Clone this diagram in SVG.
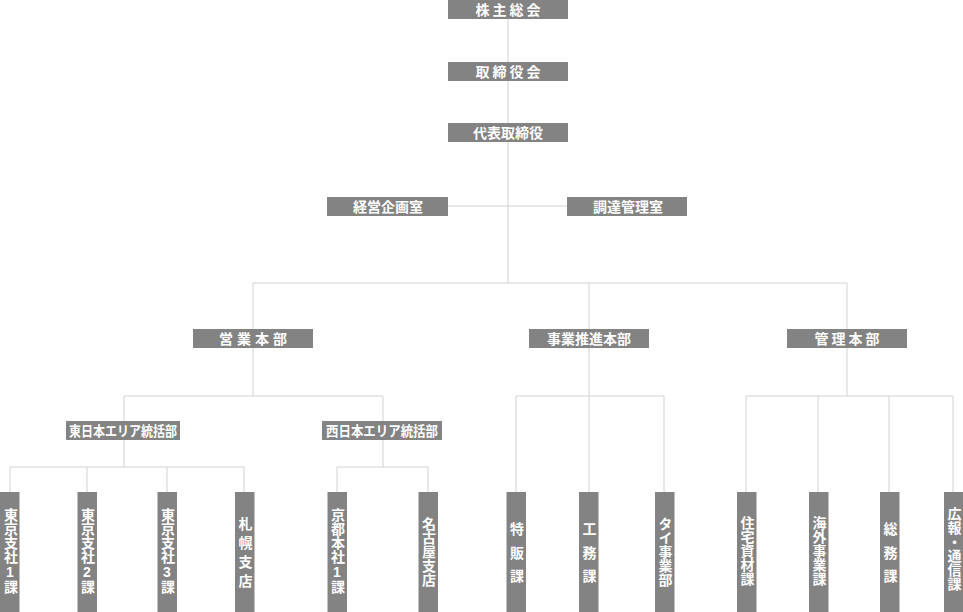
<svg xmlns="http://www.w3.org/2000/svg" width="963" height="612" viewBox="0 0 963 612">
<style>
.b{fill:#838383}
.t{fill:#fff;font-family:"Liberation Sans","Noto Sans CJK JP",sans-serif;font-weight:bold;font-size:14px;text-anchor:middle;dominant-baseline:central}
.v{writing-mode:vertical-rl;text-orientation:upright}
.c{stroke:#d2d2d2;stroke-width:1;fill:none}
</style>
<rect width="963" height="612" fill="#fff"/>
<g id="connectors" class="c">
<path d="M508 19V283M448 206H567M253 283H847M253 283V329M589 283V329M847 283V329"/>
<path d="M253 348V396M124 396H383M124 396V421M383 396V421"/>
<path d="M124 440V467M10 467H244M10 467V492M87 467V492M167 467V492M244 467V492"/>
<path d="M383 440V467M337 467H428M337 467V492M428 467V492"/>
<path d="M589 348V492M516 396H664M516 396V492M664 396V492"/>
<path d="M847 348V396M746 396H953M746 396V492M818 396V492M889 396V492M953 396V492"/>
</g>
<g id="n1"><rect class="b" x="448" y="0" width="120" height="19"/><text class="t" x="509.5" y="10" letter-spacing="3">株主総会</text></g>
<g id="n2"><rect class="b" x="448" y="62" width="120" height="19"/><text class="t" x="509.5" y="72" letter-spacing="3">取締役会</text></g>
<g id="n3"><rect class="b" x="448" y="123" width="120" height="19"/><text class="t" x="508" y="133">代表取締役</text></g>
<g id="n4"><rect class="b" x="327" y="197" width="121" height="19"/><text class="t" x="388" y="207">経営企画室</text></g>
<g id="n5"><rect class="b" x="567" y="197" width="120" height="19"/><text class="t" x="628" y="207">調達管理室</text></g>
<g id="n6"><rect class="b" x="193" y="329" width="120" height="19"/><text class="t" x="255" y="339" letter-spacing="4">営業本部</text></g>
<g id="n7"><rect class="b" x="529" y="329" width="120" height="19"/><text class="t" x="589" y="339">事業推進本部</text></g>
<g id="n8"><rect class="b" x="787" y="329" width="120" height="19"/><text class="t" x="848.5" y="339" letter-spacing="3">管理本部</text></g>
<g id="n9"><rect class="b" x="66" y="421" width="114" height="19"/><text class="t" x="123" y="431" textLength="108" lengthAdjust="spacingAndGlyphs">東日本エリア統括部</text></g>
<g id="n10"><rect class="b" x="322" y="421" width="120" height="19"/><text class="t" x="382" y="431" textLength="112" lengthAdjust="spacingAndGlyphs">西日本エリア統括部</text></g>
<g id="n11"><rect class="b" x="0" y="492" width="19.5" height="120"/><text class="t v" x="10" y="551">東京支社1課</text></g>
<g id="n12"><rect class="b" x="77.5" y="492" width="19.5" height="120"/><text class="t v" x="87" y="551">東京支社2課</text></g>
<g id="n13"><rect class="b" x="157.5" y="492" width="19.5" height="120"/><text class="t v" x="167" y="551">東京支社3課</text></g>
<g id="n14"><rect class="b" x="235" y="492" width="19.5" height="120"/><text class="t v" x="244.5" y="554.5" letter-spacing="5">札幌支店</text></g>
<g id="n15"><rect class="b" x="327.5" y="492" width="19.5" height="120"/><text class="t v" x="337" y="551">京都本社1課</text></g>
<g id="n16"><rect class="b" x="418.5" y="492" width="19.5" height="120"/><text class="t v" x="428" y="552">名古屋支店</text></g>
<g id="n17"><rect class="b" x="506.5" y="492" width="19.5" height="120"/><text class="t v" x="516" y="557" letter-spacing="9.5">特販課</text></g>
<g id="n18"><rect class="b" x="579" y="492" width="19.5" height="120"/><text class="t v" x="588.5" y="557" letter-spacing="9.5">工務課</text></g>
<g id="n19"><rect class="b" x="655" y="492" width="19.5" height="120"/><text class="t v" x="664.5" y="552">タイ事業部</text></g>
<g id="n20"><rect class="b" x="737" y="492" width="19.5" height="120"/><text class="t v" x="746.5" y="551">住宅資材課</text></g>
<g id="n21"><rect class="b" x="809" y="492" width="19.5" height="120"/><text class="t v" x="818.5" y="551">海外事業課</text></g>
<g id="n22"><rect class="b" x="880" y="492" width="19.5" height="120"/><text class="t v" x="889.5" y="557" letter-spacing="9.5">総務課</text></g>
<g id="n23"><rect class="b" x="944" y="492" width="19" height="120"/><text class="t v" x="953.5" y="549">広報・通信課</text></g>
</svg>
